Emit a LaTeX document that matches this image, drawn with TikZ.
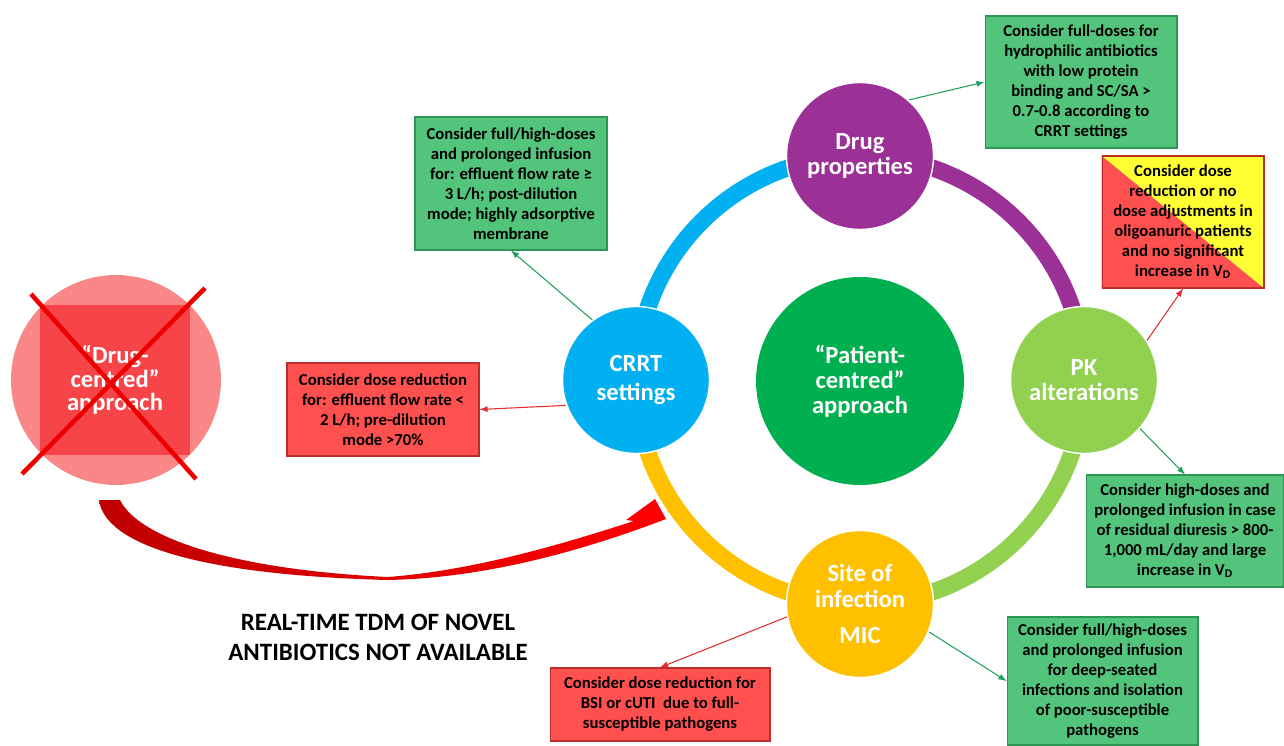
\documentclass[tikz,border=0pt]{standalone}
\usepackage{fontspec}
\setmainfont{Carlito}
\usepackage{tikz}
\pgfdeclarelayer{edgelayer}
\pgfdeclarelayer{nodelayer}
\pgfsetlayers{edgelayer,nodelayer,main}
\definecolor{ringblue}{RGB}{0,176,240}
\definecolor{ringpurple}{RGB}{155,48,150}
\definecolor{ringlime}{RGB}{146,208,80}
\definecolor{ringgold}{RGB}{255,192,0}
\definecolor{hubgreen}{RGB}{0,176,80}
\definecolor{boxgreen}{RGB}{82,196,124}
\definecolor{boxgreenline}{RGB}{45,150,85}
\definecolor{boxred}{RGB}{255,80,80}
\definecolor{boxredline}{RGB}{190,45,45}
\definecolor{boxyellow}{RGB}{255,255,51}
\definecolor{linkgreen}{RGB}{30,160,90}
\definecolor{linkred}{RGB}{225,45,45}
\definecolor{oldpale}{RGB}{250,135,135}
\definecolor{oldred}{RGB}{247,68,72}
\definecolor{crossred}{RGB}{238,0,0}
\definecolor{arrowdark}{RGB}{190,0,0}
\definecolor{arrowred}{RGB}{255,0,0}
\tikzstyle{none}=[inner sep=0pt]
\tikzstyle{hub}=[circle, inner sep=0pt, minimum size=4.16cm, fill=hubgreen, text=white, align=center, font=\bfseries\fontsize{14}{14.2}\selectfont]
\tikzstyle{factor}=[circle, inner sep=0pt, minimum size=2.94cm, draw=white, line width=0.8pt, text=white, align=center, font=\bfseries\fontsize{14}{14}\selectfont]
\tikzstyle{greenbox}=[rectangle, inner sep=0pt, fill=boxgreen, draw=boxgreenline, line width=0.6pt, align=center, font=\bfseries\fontsize{9.5}{11.4}\selectfont]
\tikzstyle{redbox}=[rectangle, inner sep=0pt, fill=boxred, draw=boxredline, line width=0.6pt, align=center, font=\bfseries\fontsize{9.5}{11.4}\selectfont]
\tikzstyle{splitbox}=[rectangle, inner sep=0pt, draw=boxredline, line width=0.6pt, align=center, font=\bfseries\fontsize{9.5}{11.4}\selectfont]
\tikzstyle{ring}=[line width=0.34cm]
\tikzstyle{glink}=[draw=linkgreen, line width=0.6pt, ->, >=latex]
\tikzstyle{rlink}=[draw=linkred, line width=0.6pt, ->, >=latex]
\begin{document}
\begin{tikzpicture}[x=0.02cm, y=-0.02cm]
	\useasboundingbox (0, 0) rectangle (1284, 746);
	\begin{pgfonlayer}{nodelayer}
		\node [style=hub] (0) at (860, 381) {“Patient-\\centred”\\approach};
		\node [style=factor, fill=ringpurple] (1) at (860, 156) {Drug\\properties};
		\node [style=factor, fill=ringlime] (2) at (1084, 380) {PK\\alterations};
		\node [style=factor, fill=ringgold, font=\bfseries\fontsize{14}{14.8}\selectfont] (3) at (860, 604) {Site of\\infection\\[6pt]MIC};
		\node [style=factor, fill=ringblue, font=\bfseries\fontsize{14}{16}\selectfont] (4) at (636, 380) {CRRT\\settings};
		\node [style=greenbox, minimum width=3.84cm, minimum height=2.64cm] (5) at (1081, 82) {Consider full-doses for\\hydrophilic antibiotics\\with low protein\\binding and SC/SA >\\0.7-0.8 according to\\CRRT settings};
		\node [style=greenbox, minimum width=3.84cm, minimum height=2.66cm] (6) at (511, 183.5) {Consider full/high-doses\\and prolonged infusion\\for: effluent flow rate ≥\\3 L/h; post-dilution\\mode; highly adsorptive\\membrane};
		\node [style=redbox, minimum width=3.84cm, minimum height=1.86cm] (7) at (383, 409.5) {Consider dose reduction\\for: effluent flow rate <\\2 L/h; pre-dilution\\mode >70\%};
		\node [style=splitbox, minimum width=3.24cm, minimum height=2.64cm] (8) at (1183, 222) {Consider dose\\reduction or no\\dose adjustments in\\oligoanuric patients\\and no significant\\increase in V\textsubscript{D}};
		\node [style=greenbox, minimum width=3.96cm, minimum height=2.24cm] (9) at (1185, 531) {Consider high-doses and\\prolonged infusion in case\\of residual diuresis > 800-\\1,000 mL/day and large\\increase in V\textsubscript{D}};
		\node [style=redbox, minimum width=4.4cm, minimum height=1.46cm] (10) at (660, 704.5) {Consider dose reduction for\\BSI or cUTI\ \ due to full-\\susceptible pathogens};
		\node [style=greenbox, minimum width=3.82cm, minimum height=2.56cm] (11) at (1102.5, 681) {Consider full/high-doses\\and prolonged infusion\\for deep-seated\\infections and isolation\\of poor-susceptible\\pathogens};
		\node [circle, inner sep=0pt, minimum size=4.2cm, fill=oldpale] (12) at (116, 380) {};
		\node [rectangle, inner sep=0pt, minimum size=3cm, fill=oldred, text=white, align=center, font=\bfseries\fontsize{14}{13.4}\selectfont] (13) at (115, 380) {“Drug-\\centred”\\approach};
		\node [style=none, align=center, font=\bfseries\fontsize{14.2}{17}\selectfont] (14) at (378, 637) {REAL-TIME TDM OF NOVEL\\ANTIBIOTICS NOT AVAILABLE};
		\coordinate (15) at (31, 294);
		\coordinate (16) at (196, 479);
		\coordinate (17) at (205, 288);
		\coordinate (18) at (22, 474);
	\end{pgfonlayer}
	\begin{pgfonlayer}{edgelayer}
		\draw [style=ring, draw=ringblue] (4.center) arc [start angle=180, end angle=90, radius=4.48cm];
		\draw [style=ring, draw=ringpurple] (1.center) arc [start angle=90, end angle=0, radius=4.48cm];
		\draw [style=ring, draw=ringlime] (2.center) arc [start angle=0, end angle=-90, radius=4.48cm];
		\draw [style=ring, draw=ringgold] (3.center) arc [start angle=-90, end angle=-180, radius=4.48cm];
		\fill [boxred] (8.north west) -- (8.south east) -- (8.south west) -- cycle;
		\fill [boxyellow] (8.north west) -- (8.north east) -- (8.south east) -- cycle;
		\draw [style=glink] (1.49) to (5.west);
		\draw [style=glink] (4.126) to (6.south);
		\draw [style=rlink] (4.200) to (7.east);
		\draw [style=rlink] (2.32) to (8.south);
		\draw [style=glink] (2.-41) to (9.north);
		\draw [style=rlink] (3.190) to (10.north);
		\draw [style=glink] (3.-22) to (11.west);
		\shade [left color=arrowdark, right color=arrowred] (99, 500) .. controls (105, 545) and (200, 575) .. (388, 580) .. controls (490, 578) and (590, 548) .. (666, 519) -- (655, 499) -- (626, 520) -- (634, 521) .. controls (575, 540) and (480, 570) .. (388, 577) .. controls (240, 570) and (140, 540) .. (120, 500) -- cycle;
	\end{pgfonlayer}
	\draw [draw=crossred, line width=2.6pt] (15) to (16);
	\draw [draw=crossred, line width=2.6pt] (17) to (18);
\end{tikzpicture}
\end{document}
